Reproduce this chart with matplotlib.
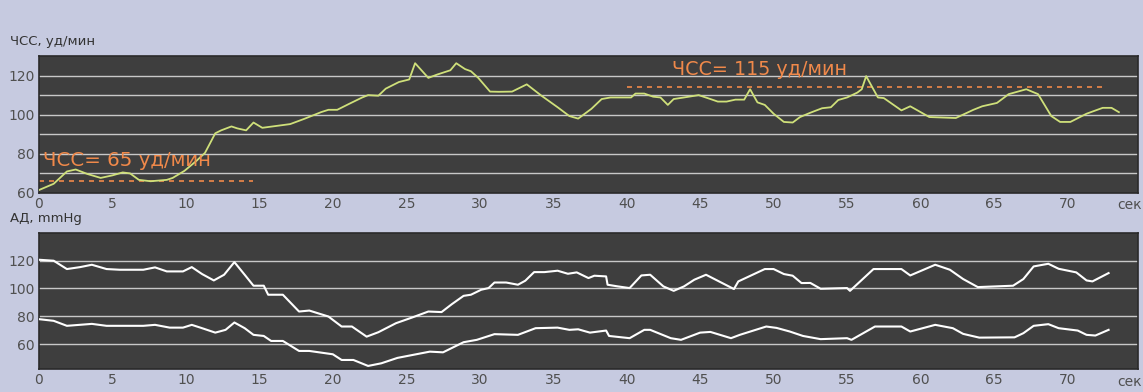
import matplotlib.pyplot as plt

# ЧСС (heart rate), seconds / beats per minute
hr_t = [0, 1.0, 1.9, 2.5, 3.3, 4.2, 5.0, 5.7, 6.2, 6.8, 7.6, 8.7, 9.1, 9.9, 10.7,
        11.3, 12.0, 12.4, 13.1, 13.5, 14.1, 14.6, 15.2, 16.1, 17.1, 18.1, 19.2,
        19.7, 20.3, 21.1, 22.0, 22.4, 23.1, 23.6, 24.5, 25.2, 25.6, 26.5, 27.1,
        28.0, 28.4, 29.0, 29.4, 29.9, 30.7, 31.3, 32.2, 33.2, 34.2, 35.3, 36.1,
        36.7, 37.6, 38.3, 38.9, 40.3, 40.6, 41.2, 41.8, 42.3, 42.8, 43.2, 43.9,
        44.9, 45.7, 46.2, 46.8, 47.4, 48.0, 48.4, 48.9, 49.4, 50.0, 50.7, 51.3,
        51.8, 52.5, 53.3, 53.9, 54.4, 55.0, 55.7, 56.0, 56.3, 57.1, 57.5, 58.7,
        59.3, 60.6, 62.4, 63.6, 64.2, 65.2, 66.0, 67.2, 68.0, 68.9, 69.5, 70.2,
        71.3, 72.4, 73.0, 73.5]
hr = [61.5, 64.7, 71, 72, 69.7, 67.7, 69, 70.5, 70, 66.7, 66, 66.7, 67.7, 71.3,
      76.3, 80.5, 90.5, 92, 94, 93, 92, 96, 93.3, 94.2, 95.2, 98, 101.3, 102.5,
      102.5, 105.5, 108.8, 110, 109.7, 113.3, 116.7, 118, 126.3, 118.8, 120.5,
      122.7, 126.3, 123.3, 122.2, 118.8, 111.8, 111.7, 111.8, 115.5, 109.7, 103.8,
      99.3, 98, 103, 108, 108.8, 108.8, 110.8, 110.8, 109.2, 108.8, 105, 108,
      108.8, 110, 108, 106.7, 106.7, 107.7, 107.7, 113, 106.3, 105, 100.5, 96.3,
      96, 98.8, 101, 103.3, 103.8, 107.5, 108.8, 111.3, 113, 119.7, 108.8, 108.5,
      102.2, 104.3, 98.8, 98.3, 102.5, 104.3, 106, 110.5, 113, 110.5, 99.3, 96.3,
      96.3, 100.5, 103.5, 103.5, 101.3]

# АД (blood pressure), systolic
sys_t = [0, 1.0, 1.9, 2.8, 3.6, 4.6, 5.5, 7.1, 7.9, 8.7, 9.8, 10.4, 11.1, 11.9,
         12.6, 13.3, 14.0, 14.6, 15.3, 15.6, 16.6, 17.7, 18.4, 19.7, 20.6, 21.3,
         22.3, 23.1, 24.3, 25.4, 26.5, 27.4, 28.1, 28.9, 29.4, 30.1, 30.6, 31.0,
         31.8, 32.6, 33.1, 33.7, 34.4, 35.3, 36.0, 36.6, 37.4, 37.8, 38.6, 38.7,
         39.4, 40.2, 41.0, 41.6, 42.5, 43.2, 43.9, 44.6, 45.4, 47.3, 47.6, 49.4,
         50.0, 50.7, 51.3, 51.9, 52.5, 53.2, 55.0, 55.2, 56.8, 58.7, 59.3, 61.0,
         62.0, 62.9, 63.9, 66.3, 67.0, 67.7, 68.7, 69.4, 70.6, 71.3, 71.7, 72.8]
sys_bp = [120.7, 120, 114, 115.4, 117.1, 114, 113.5, 113.5, 115.2, 112.3, 112.3,
          115.4, 110.4, 105.8, 109.9, 119, 109.9, 102, 102, 95.5, 95.5, 83.4,
          84.1, 79.8, 72.6, 72.6, 65.3, 68.5, 75, 79.1, 83.4, 83, 88.7, 94.7, 95.5,
          99.1, 100.3, 104.3, 104.3, 102.7, 105.6, 111.8, 111.8, 112.8, 110.6,
          111.6, 107.5, 109.2, 108.7, 102.7, 101.5, 100.3, 109.4, 109.9, 101.5,
          98.3, 101.5, 106.3, 109.9, 99.6, 105.1, 114, 114, 110.4, 109.2, 103.9,
          104, 99.8, 100.3, 98.3, 114, 114, 109.4, 117.1, 113.5, 106.8, 101, 102,
          106.8, 115.9, 117.8, 114.2, 111.6, 105.8, 105.1, 111.1]

# АД, diastolic
dia_t = [0, 1.0, 1.9, 3.6, 4.6, 7.1, 7.9, 8.9, 9.8, 10.4, 11.1, 12.0, 12.7, 13.3,
         14.0, 14.6, 15.3, 15.8, 16.6, 17.7, 18.4, 20.0, 20.6, 21.4, 22.4, 23.3,
         24.4, 26.6, 27.5, 28.9, 29.8, 31.0, 32.6, 33.8, 35.3, 36.1, 36.7, 37.5,
         38.6, 38.8, 40.2, 41.2, 41.6, 43.0, 43.7, 45.0, 45.7, 47.1, 47.7, 49.5,
         50.2, 51.1, 52.0, 53.2, 55.0, 55.3, 56.9, 58.7, 59.3, 61.0, 62.2, 62.9,
         64.0, 66.4, 67.0, 67.7, 68.7, 69.4, 70.7, 71.3, 71.9, 72.8]
dia_bp = [77.9, 76.7, 73.1, 74.5, 73.1, 73.1, 73.8, 71.8, 71.8, 73.8, 71.4, 68.2,
          70.2, 75.5, 71.4, 66.6, 65.8, 62.2, 62.2, 55, 55, 52.6, 48.5, 48.5, 44.2,
          46.1, 50, 54.5, 54, 61.3, 63, 67.1, 66.6, 71.4, 71.8, 70.2, 70.6, 68.2,
          69.7, 65.8, 64.2, 70.2, 70.2, 64.2, 63, 68.2, 68.7, 64.2, 66.6, 72.6,
          71.6, 69, 65.8, 63.5, 64.2, 63, 72.6, 72.6, 69, 73.8, 71.4, 67.3, 64.6,
          64.8, 67.8, 73.1, 74.3, 71.4, 69.7, 66.6, 66.1, 70.2]

x_ticks = [0, 5, 10, 15, 20, 25, 30, 35, 40, 45, 50, 55, 60, 65, 70]
y_ticks = [60, 80, 100, 120]

bg = '#c6cae0'
panel = '#3e3e3e'
grid_c = '#c8c8c8'
orange = '#f0894a'
label_c = '#505050'

fig = plt.figure(figsize=(11.43, 3.92), dpi=100, facecolor=bg)
ax1 = fig.add_axes([0.0341, 0.5077, 0.9615, 0.3495])
ax2 = fig.add_axes([0.0341, 0.0587, 0.9615, 0.3470])

for ax in (ax1, ax2):
    ax.set_facecolor(panel)
    ax.set_xlim(0, 74.8)
    ax.set_xticks(x_ticks)
    ax.set_yticks(y_ticks)
    ax.tick_params(length=0, labelsize=10, labelcolor=label_c, pad=3)
    for s in ax.spines.values():
        s.set_color('#2a2a2a')
        s.set_linewidth(1.2)

# top panel: heart rate
ax1.set_ylim(60, 130)
for g in [70, 80, 90, 100, 110, 120]:
    ax1.axhline(g, color=grid_c, lw=1.0, zorder=1)
ax1.plot(hr_t, hr, color='#cfe07a', lw=1.3, zorder=3)
ax1.plot([0, 14.6], [66, 66], color=orange, lw=1.2, ls=(0, (3, 3)), zorder=2)
ax1.plot([40, 72.4], [114, 114], color=orange, lw=1.2, ls=(0, (3, 3)), zorder=2)
ax1.text(0.3, 76.5, 'ЧСС= 65 уд/мин', color=orange, fontsize=14.2, va='center')
ax1.text(43.1, 123.2, 'ЧСС= 115 уд/мин', color=orange, fontsize=13.8, va='center')
fig.text(0.009, 0.893, 'ЧСС, уд/мин', color='#333333', fontsize=9.5, va='center')
fig.text(0.999, 0.478, 'сек', color=label_c, fontsize=10, va='center', ha='right')

# bottom panel: blood pressure
ax2.set_ylim(42, 140)
for g in [60, 80, 100, 120]:
    ax2.axhline(g, color=grid_c, lw=1.0, zorder=1)
ax2.plot(sys_t, sys_bp, color='white', lw=1.5, zorder=3)
ax2.plot(dia_t, dia_bp, color='white', lw=1.5, zorder=3)
fig.text(0.009, 0.443, 'АД, mmHg', color='#333333', fontsize=9.5, va='center')
fig.text(0.999, 0.025, 'сек', color=label_c, fontsize=10, va='center', ha='right')

fig.savefig('out.png', dpi=100, facecolor=bg)
